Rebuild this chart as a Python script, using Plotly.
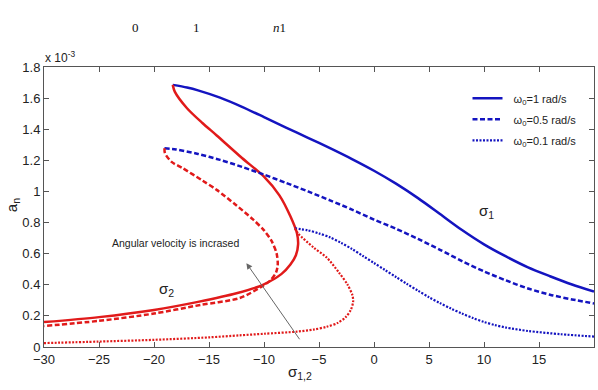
import plotly.graph_objects as go

# ---- data (a_n in units of 1e-3) ----
# omega0 = 1 rad/s
s1_w1 = [-18.3, -17, -16, -14, -12, -10, -8, -6, -4, -2, 0, 2, 4, 6, 8, 10, 12, 14, 16, 18, 20]
a1_w1 = [1.685, 1.668, 1.650, 1.603, 1.544, 1.478, 1.411, 1.345, 1.278, 1.208, 1.133, 1.050, 0.957,
         0.855, 0.752, 0.660, 0.582, 0.512, 0.455, 0.402, 0.356]
s2_w1 = [-18.3, -18.1, -17.0, -15.6, -14.3, -12.0, -10.0, -8.6, -7.6, -7.0, -6.9, -7.1, -7.6, -8.4,
         -10.1, -12.5, -16, -20, -25, -30]
a2_w1 = [1.685, 1.640, 1.535, 1.440, 1.360, 1.215, 1.095, 0.975, 0.840, 0.730, 0.660, 0.590, 0.530,
         0.470, 0.400, 0.345, 0.290, 0.238, 0.192, 0.160]

# omega0 = 0.5 rad/s
s1_w05 = [-19.05, -18, -16, -14, -12, -10, -8, -6, -4, -2, 0, 2, 4, 6, 8, 10, 12, 14, 16, 18, 20]
a1_w05 = [1.278, 1.270, 1.241, 1.203, 1.158, 1.108, 1.055, 1.000, 0.943, 0.883, 0.819, 0.760, 0.695,
          0.625, 0.552, 0.486, 0.428, 0.376, 0.336, 0.306, 0.280]
s2_w05 = [-19.05, -19.0, -18.4, -17.4, -15.6, -14.3, -12.5, -11.0, -10.0, -9.3, -8.85, -8.75, -8.9,
          -9.4, -10.3, -12.2, -15.8, -20, -25, -30]
a2_w05 = [1.278, 1.245, 1.190, 1.150, 1.070, 1.010, 0.910, 0.820, 0.750, 0.680, 0.600, 0.530, 0.480,
          0.430, 0.385, 0.315, 0.270, 0.215, 0.168, 0.135]

# omega0 = 0.1 rad/s
s1_w01 = [-7.2, -6, -5, -4, -3, -2, -1, 0, 1, 2, 3, 4, 5, 6, 7, 8, 9, 10, 11, 12, 14, 17, 20]
a1_w01 = [0.763, 0.750, 0.730, 0.705, 0.670, 0.630, 0.585, 0.540, 0.495, 0.450, 0.405, 0.362, 0.320,
          0.282, 0.247, 0.215, 0.186, 0.161, 0.141, 0.125, 0.103, 0.082, 0.067]
s2_w01 = [-7.2, -6.9, -5.5, -4.3, -3.2, -2.4, -1.95, -1.9, -2.1, -2.6, -3.3, -4.3, -5.5, -7, -10,
          -12.2, -15, -20, -25, -30]
a2_w01 = [0.763, 0.730, 0.640, 0.575, 0.480, 0.400, 0.330, 0.290, 0.240, 0.190, 0.155, 0.130, 0.112,
          0.099, 0.085, 0.075, 0.062, 0.046, 0.035, 0.025]

legend_names = ["&nbsp;&nbsp;ω<sub>0</sub>=1 rad/s", "&nbsp;&nbsp;ω<sub>0</sub>=0.5 rad/s",
                "&nbsp;&nbsp;ω<sub>0</sub>=0.1 rad/s"]
y_ticks = [0, 0.2, 0.4, 0.6, 0.8, 1.0, 1.2, 1.4, 1.6, 1.8]
x_ticks = [-30, -25, -20, -15, -10, -5, 0, 5, 10, 15, 20]

BLUE = "#1414c0"
RED = "#e11a1a"
styles = [("solid", 2.5), ("5px,2.5px", 2.5), ("2px,1.5px", 2.2)]

fig = go.Figure()
series = [(s1_w1, a1_w1, s2_w1, a2_w1), (s1_w05, a1_w05, s2_w05, a2_w05), (s1_w01, a1_w01, s2_w01, a2_w01)]
for i, ((sx1, sy1, sx2, sy2), name, (dash, w)) in enumerate(zip(series, legend_names, styles)):
    fig.add_trace(go.Scatter(x=sx1, y=sy1, mode="lines", name=name, legendgroup="g%d" % i,
                             line=dict(color=BLUE, width=w, dash=dash, shape="spline", smoothing=0.8)))
    fig.add_trace(go.Scatter(x=sx2, y=sy2, mode="lines", showlegend=False, legendgroup="g%d" % i,
                             line=dict(color=RED, width=w, dash=dash, shape="spline", smoothing=0.8)))

NARROW = "Liberation Sans Narrow, Arial Narrow, Liberation Sans, Arial"
axis_common = dict(showgrid=False, zeroline=False, showline=True, linecolor="#555", linewidth=1,
                   mirror="ticks", ticks="inside", ticklen=5, tickcolor="#555",
                   tickfont=dict(family=NARROW, size=13, color="#222"))
fig.update_xaxes(range=[-30, 20], tickvals=x_ticks, **axis_common)
fig.update_yaxes(range=[0, 1.8], tickvals=y_ticks,
                 ticktext=[("%g" % v) for v in y_ticks], **axis_common)

font = dict(family=NARROW, size=12, color="#222")
small = dict(family=NARROW, size=10.5, color="#222")
big = dict(family=NARROW, size=15, color="#222")
serif = dict(family="Liberation Serif, Times New Roman", size=13, color="#111")
ann = [
    dict(text="x 10<sup>-3</sup>", xref="paper", yref="paper", x=-0.002, y=1.0,
         xanchor="left", yanchor="bottom", showarrow=False, font=font),
    dict(text="a<sub>n</sub>", xref="paper", yref="paper", x=-0.058, y=0.507, textangle=-90,
         xanchor="center", yanchor="middle", showarrow=False, font=big),
    dict(text="σ<sub>1,2</sub>", xref="paper", yref="paper", x=0.465, y=-0.09,
         xanchor="center", yanchor="middle", showarrow=False, font=big),
    dict(text="σ<sub>1</sub>", x=10.2, y=0.87, xanchor="center", showarrow=False, font=big),
    dict(text="σ<sub>2</sub>", x=-18.9, y=0.37, xanchor="center", showarrow=False, font=big),
    dict(text="Angular velocity is incrased", x=-18.05, y=0.671, xanchor="center",
         showarrow=False, font=small),
    dict(text="", x=-11.6, y=0.539, ax=-6.67, ay=0.04, axref="x", ayref="y",
         showarrow=True, arrowhead=2, arrowsize=1.2, arrowwidth=1, arrowcolor="#666"),
    dict(text="0", xref="paper", yref="paper", x=0.1655, y=1.175, xanchor="center",
         showarrow=False, font=serif),
    dict(text="1", xref="paper", yref="paper", x=0.278, y=1.175, xanchor="center",
         showarrow=False, font=serif),
    dict(text="<i>n</i>1", xref="paper", yref="paper", x=0.429, y=1.175, xanchor="center",
         showarrow=False, font=serif),
]

fig.update_layout(
    width=598, height=390,
    margin=dict(l=44, r=4, t=67, b=43),
    paper_bgcolor="white", plot_bgcolor="white",
    annotations=ann,
    legend=dict(x=0.77, y=0.94, xanchor="left", yanchor="top", bgcolor="rgba(0,0,0,0)",
                itemwidth=30, tracegroupgap=2,
                font=dict(family=NARROW, size=11, color="#222")),
)

fig.write_html("out.html")
